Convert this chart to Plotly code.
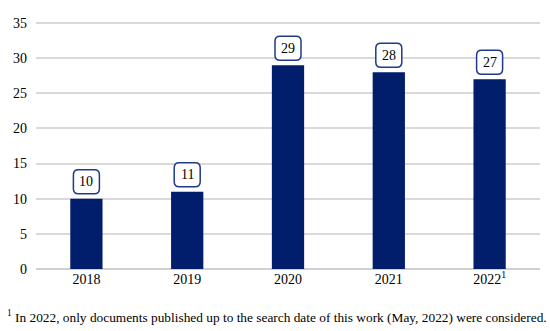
import plotly.graph_objects as go

years = ["2018", "2019", "2020", "2021", "2022"]
year_labels = ["2018", "2019", "2020", "2021", "2022<sup>1</sup>"]
counts = [10, 11, 29, 28, 27]
y_ticks = [0, 5, 10, 15, 20, 25, 30, 35]
footnote = "<sup>1</sup> In 2022, only documents published up to the search date of this work (May, 2022) were considered."

BAR = "#001E6C"
BOX = "#1F3A88"
FONT = "'Liberation Serif', 'Times New Roman', Times, serif"

fig = go.Figure()
fig.add_trace(go.Bar(x=years, y=counts, marker=dict(color=BAR, line=dict(width=0)),
                     hoverinfo="skip"))

# rounded label boxes (pixel-sized, anchored to bar tops)
w, h, r, gap = 13, 24, 5, 5
path = (f"M {-w+r},{gap} L {w-r},{gap} Q {w},{gap} {w},{gap+r} "
        f"L {w},{gap+h-r} Q {w},{gap+h} {w-r},{gap+h} "
        f"L {-w+r},{gap+h} Q {-w},{gap+h} {-w},{gap+h-r} "
        f"L {-w},{gap+r} Q {-w},{gap} {-w+r},{gap} Z")
for i, (yr, v) in enumerate(zip(years, counts)):
    fig.add_shape(type="path", xref="x", yref="y", xsizemode="pixel", ysizemode="pixel",
                  xanchor=i, yanchor=v, path=path,
                  line=dict(color=BOX, width=1.5), fillcolor="white", layer="above")
    fig.add_annotation(x=i, y=v, text=str(v), showarrow=False, xref="x", yref="y",
                       yanchor="middle", yshift=gap + h / 2,
                       font=dict(family=FONT, size=14, color="black"))

fig.add_annotation(x=0.0, y=0, xref="paper", yref="paper", xanchor="left", yanchor="middle",
                   xshift=-31, yshift=-47, text=footnote, showarrow=False,
                   font=dict(family=FONT, size=13.35, color="black"))

fig.update_layout(
    width=550, height=331,
    margin=dict(l=36, r=10, t=22, b=62),
    paper_bgcolor="white", plot_bgcolor="white",
    bargap=0.68, showlegend=False,
    font=dict(family=FONT, size=14, color="black"),
    xaxis=dict(type="category", tickmode="array", tickvals=years, ticktext=year_labels,
               showgrid=False, showline=False, ticks="",
               tickfont=dict(family=FONT, size=14)),
    yaxis=dict(range=[0, 35.15], tickvals=y_ticks, showgrid=True, gridcolor="#D9D9D9",
               gridwidth=1.5, zeroline=True, zerolinecolor="#D0D0D0", zerolinewidth=1.5,
               ticks="", ticklabelstandoff=8, tickfont=dict(family=FONT, size=14)),
)

fig.write_html("out.html", config={"displayModeBar": False},
               post_script="document.body.style.margin='0';")
